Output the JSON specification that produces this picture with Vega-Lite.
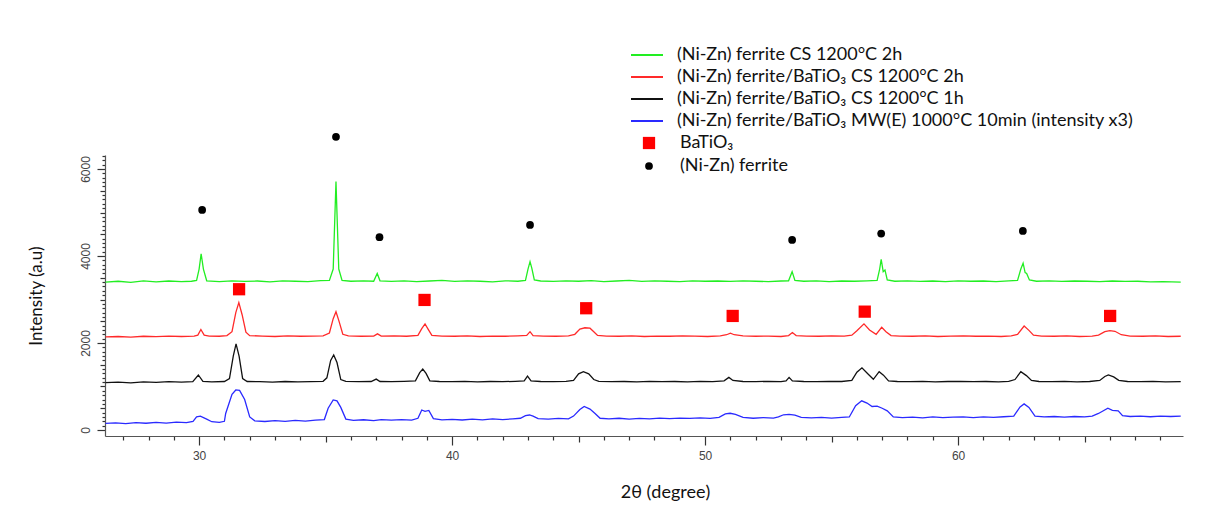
{
  "$schema": "https://vega.github.io/schema/vega-lite/v6.json",
  "width": 1078,
  "height": 281,
  "autosize": {"type": "none"},
  "padding": {"left": 105, "top": 155, "right": 32, "bottom": 91},
  "background": "white",
  "config": {"view": {"stroke": null}, "font": "Lato"},
  "datasets": {
    "traces": [
      {"s":"A","x":26.3,"y":3400},{"s":"A","x":26.8,"y":3420},{"s":"A","x":27.3,"y":3395},{"s":"A","x":27.8,"y":3430},{"s":"A","x":28.3,"y":3405},{"s":"A","x":28.8,"y":3425},{"s":"A","x":29.3,"y":3410},{"s":"A","x":29.7,"y":3420},{"s":"A","x":29.9,"y":3440},{"s":"A","x":30.0,"y":3700},{"s":"A","x":30.08,"y":4050},{"s":"A","x":30.17,"y":3700},{"s":"A","x":30.3,"y":3430},{"s":"A","x":30.8,"y":3410},{"s":"A","x":31.3,"y":3430},{"s":"A","x":31.8,"y":3415},{"s":"A","x":32.3,"y":3425},{"s":"A","x":32.8,"y":3405},{"s":"A","x":33.3,"y":3430},{"s":"A","x":33.8,"y":3420},{"s":"A","x":34.3,"y":3410},{"s":"A","x":34.8,"y":3435},{"s":"A","x":35.15,"y":3440},{"s":"A","x":35.3,"y":3700},{"s":"A","x":35.41,"y":5710},{"s":"A","x":35.52,"y":3700},{"s":"A","x":35.65,"y":3440},{"s":"A","x":36.0,"y":3420},{"s":"A","x":36.5,"y":3430},{"s":"A","x":36.9,"y":3420},{"s":"A","x":37.04,"y":3600},{"s":"A","x":37.15,"y":3430},{"s":"A","x":37.6,"y":3415},{"s":"A","x":38.1,"y":3430},{"s":"A","x":38.6,"y":3410},{"s":"A","x":39.1,"y":3425},{"s":"A","x":39.6,"y":3440},{"s":"A","x":40.1,"y":3415},{"s":"A","x":40.6,"y":3430},{"s":"A","x":41.1,"y":3420},{"s":"A","x":41.6,"y":3405},{"s":"A","x":42.1,"y":3430},{"s":"A","x":42.6,"y":3420},{"s":"A","x":42.9,"y":3440},{"s":"A","x":43.0,"y":3700},{"s":"A","x":43.08,"y":3870},{"s":"A","x":43.15,"y":3720},{"s":"A","x":43.25,"y":3450},{"s":"A","x":43.5,"y":3425},{"s":"A","x":44.0,"y":3415},{"s":"A","x":44.5,"y":3430},{"s":"A","x":45.0,"y":3420},{"s":"A","x":45.5,"y":3435},{"s":"A","x":46.0,"y":3410},{"s":"A","x":46.5,"y":3425},{"s":"A","x":47.0,"y":3440},{"s":"A","x":47.5,"y":3415},{"s":"A","x":48.0,"y":3430},{"s":"A","x":48.5,"y":3420},{"s":"A","x":49.0,"y":3410},{"s":"A","x":49.5,"y":3430},{"s":"A","x":50.0,"y":3420},{"s":"A","x":50.5,"y":3425},{"s":"A","x":51.0,"y":3415},{"s":"A","x":51.5,"y":3430},{"s":"A","x":52.0,"y":3420},{"s":"A","x":52.5,"y":3410},{"s":"A","x":53.0,"y":3425},{"s":"A","x":53.3,"y":3430},{"s":"A","x":53.44,"y":3640},{"s":"A","x":53.55,"y":3440},{"s":"A","x":53.9,"y":3420},{"s":"A","x":54.4,"y":3430},{"s":"A","x":54.9,"y":3410},{"s":"A","x":55.4,"y":3425},{"s":"A","x":55.9,"y":3420},{"s":"A","x":56.4,"y":3430},{"s":"A","x":56.8,"y":3440},{"s":"A","x":56.9,"y":3700},{"s":"A","x":56.96,"y":3925},{"s":"A","x":57.04,"y":3640},{"s":"A","x":57.11,"y":3680},{"s":"A","x":57.2,"y":3450},{"s":"A","x":57.5,"y":3420},{"s":"A","x":58.0,"y":3430},{"s":"A","x":58.5,"y":3415},{"s":"A","x":59.0,"y":3425},{"s":"A","x":59.5,"y":3410},{"s":"A","x":60.0,"y":3430},{"s":"A","x":60.5,"y":3420},{"s":"A","x":61.0,"y":3425},{"s":"A","x":61.5,"y":3410},{"s":"A","x":62.0,"y":3430},{"s":"A","x":62.35,"y":3440},{"s":"A","x":62.48,"y":3700},{"s":"A","x":62.57,"y":3835},{"s":"A","x":62.65,"y":3620},{"s":"A","x":62.71,"y":3600},{"s":"A","x":62.82,"y":3450},{"s":"A","x":63.1,"y":3420},{"s":"A","x":63.6,"y":3430},{"s":"A","x":64.1,"y":3415},{"s":"A","x":64.6,"y":3425},{"s":"A","x":65.1,"y":3420},{"s":"A","x":65.6,"y":3410},{"s":"A","x":66.1,"y":3425},{"s":"A","x":66.6,"y":3415},{"s":"A","x":67.1,"y":3420},{"s":"A","x":67.6,"y":3405},{"s":"A","x":68.1,"y":3410},{"s":"A","x":68.8,"y":3400},
      {"s":"B","x":26.3,"y":2140},{"s":"B","x":26.8,"y":2150},{"s":"B","x":27.3,"y":2135},{"s":"B","x":27.8,"y":2155},{"s":"B","x":28.3,"y":2145},{"s":"B","x":28.8,"y":2160},{"s":"B","x":29.3,"y":2150},{"s":"B","x":29.8,"y":2160},{"s":"B","x":29.95,"y":2180},{"s":"B","x":30.07,"y":2310},{"s":"B","x":30.2,"y":2180},{"s":"B","x":30.4,"y":2160},{"s":"B","x":30.8,"y":2155},{"s":"B","x":31.1,"y":2170},{"s":"B","x":31.3,"y":2260},{"s":"B","x":31.45,"y":2700},{"s":"B","x":31.57,"y":2930},{"s":"B","x":31.7,"y":2650},{"s":"B","x":31.85,"y":2250},{"s":"B","x":32.0,"y":2170},{"s":"B","x":32.5,"y":2160},{"s":"B","x":33.0,"y":2150},{"s":"B","x":33.5,"y":2165},{"s":"B","x":34.0,"y":2155},{"s":"B","x":34.5,"y":2160},{"s":"B","x":34.9,"y":2165},{"s":"B","x":35.15,"y":2230},{"s":"B","x":35.3,"y":2560},{"s":"B","x":35.41,"y":2720},{"s":"B","x":35.52,"y":2520},{"s":"B","x":35.68,"y":2200},{"s":"B","x":35.9,"y":2165},{"s":"B","x":36.4,"y":2155},{"s":"B","x":36.9,"y":2160},{"s":"B","x":37.05,"y":2210},{"s":"B","x":37.2,"y":2160},{"s":"B","x":37.7,"y":2165},{"s":"B","x":38.2,"y":2155},{"s":"B","x":38.65,"y":2175},{"s":"B","x":38.8,"y":2330},{"s":"B","x":38.93,"y":2440},{"s":"B","x":39.05,"y":2320},{"s":"B","x":39.2,"y":2175},{"s":"B","x":39.6,"y":2160},{"s":"B","x":40.1,"y":2155},{"s":"B","x":40.6,"y":2165},{"s":"B","x":41.1,"y":2150},{"s":"B","x":41.6,"y":2160},{"s":"B","x":42.1,"y":2155},{"s":"B","x":42.6,"y":2165},{"s":"B","x":42.95,"y":2175},{"s":"B","x":43.08,"y":2260},{"s":"B","x":43.2,"y":2170},{"s":"B","x":43.6,"y":2160},{"s":"B","x":44.1,"y":2155},{"s":"B","x":44.6,"y":2165},{"s":"B","x":44.85,"y":2200},{"s":"B","x":45.05,"y":2320},{"s":"B","x":45.25,"y":2350},{"s":"B","x":45.45,"y":2340},{"s":"B","x":45.6,"y":2260},{"s":"B","x":45.75,"y":2175},{"s":"B","x":46.1,"y":2160},{"s":"B","x":46.6,"y":2155},{"s":"B","x":47.1,"y":2165},{"s":"B","x":47.6,"y":2150},{"s":"B","x":48.1,"y":2160},{"s":"B","x":48.6,"y":2155},{"s":"B","x":49.1,"y":2165},{"s":"B","x":49.6,"y":2160},{"s":"B","x":50.1,"y":2150},{"s":"B","x":50.6,"y":2165},{"s":"B","x":50.85,"y":2190},{"s":"B","x":51.0,"y":2225},{"s":"B","x":51.15,"y":2190},{"s":"B","x":51.5,"y":2165},{"s":"B","x":52.0,"y":2155},{"s":"B","x":52.5,"y":2160},{"s":"B","x":53.0,"y":2150},{"s":"B","x":53.3,"y":2170},{"s":"B","x":53.45,"y":2240},{"s":"B","x":53.6,"y":2170},{"s":"B","x":54.0,"y":2160},{"s":"B","x":54.5,"y":2155},{"s":"B","x":55.0,"y":2165},{"s":"B","x":55.5,"y":2160},{"s":"B","x":55.8,"y":2180},{"s":"B","x":56.0,"y":2280},{"s":"B","x":56.28,"y":2440},{"s":"B","x":56.5,"y":2300},{"s":"B","x":56.76,"y":2200},{"s":"B","x":56.98,"y":2360},{"s":"B","x":57.15,"y":2260},{"s":"B","x":57.35,"y":2170},{"s":"B","x":57.7,"y":2160},{"s":"B","x":58.2,"y":2155},{"s":"B","x":58.7,"y":2165},{"s":"B","x":59.2,"y":2150},{"s":"B","x":59.7,"y":2160},{"s":"B","x":60.2,"y":2165},{"s":"B","x":60.7,"y":2155},{"s":"B","x":61.2,"y":2160},{"s":"B","x":61.7,"y":2150},{"s":"B","x":62.1,"y":2165},{"s":"B","x":62.35,"y":2200},{"s":"B","x":62.61,"y":2390},{"s":"B","x":62.8,"y":2290},{"s":"B","x":62.98,"y":2180},{"s":"B","x":63.3,"y":2160},{"s":"B","x":63.8,"y":2155},{"s":"B","x":64.3,"y":2165},{"s":"B","x":64.8,"y":2150},{"s":"B","x":65.3,"y":2160},{"s":"B","x":65.55,"y":2180},{"s":"B","x":65.8,"y":2260},{"s":"B","x":66.0,"y":2285},{"s":"B","x":66.2,"y":2270},{"s":"B","x":66.45,"y":2190},{"s":"B","x":66.8,"y":2160},{"s":"B","x":67.3,"y":2155},{"s":"B","x":67.8,"y":2165},{"s":"B","x":68.3,"y":2150},{"s":"B","x":68.8,"y":2155},
      {"s":"C","x":26.3,"y":1090},{"s":"C","x":26.8,"y":1100},{"s":"C","x":27.3,"y":1085},{"s":"C","x":27.8,"y":1105},{"s":"C","x":28.3,"y":1095},{"s":"C","x":28.8,"y":1110},{"s":"C","x":29.3,"y":1100},{"s":"C","x":29.75,"y":1110},{"s":"C","x":29.97,"y":1265},{"s":"C","x":30.15,"y":1120},{"s":"C","x":30.5,"y":1105},{"s":"C","x":31.0,"y":1115},{"s":"C","x":31.2,"y":1180},{"s":"C","x":31.35,"y":1700},{"s":"C","x":31.46,"y":1980},{"s":"C","x":31.58,"y":1700},{"s":"C","x":31.72,"y":1180},{"s":"C","x":31.9,"y":1115},{"s":"C","x":32.4,"y":1110},{"s":"C","x":32.9,"y":1100},{"s":"C","x":33.4,"y":1115},{"s":"C","x":33.9,"y":1105},{"s":"C","x":34.4,"y":1110},{"s":"C","x":34.9,"y":1120},{"s":"C","x":35.05,"y":1200},{"s":"C","x":35.2,"y":1600},{"s":"C","x":35.32,"y":1725},{"s":"C","x":35.45,"y":1550},{"s":"C","x":35.6,"y":1160},{"s":"C","x":35.8,"y":1120},{"s":"C","x":36.3,"y":1110},{"s":"C","x":36.8,"y":1115},{"s":"C","x":37.0,"y":1170},{"s":"C","x":37.15,"y":1115},{"s":"C","x":37.6,"y":1110},{"s":"C","x":38.1,"y":1120},{"s":"C","x":38.55,"y":1130},{"s":"C","x":38.72,"y":1320},{"s":"C","x":38.84,"y":1400},{"s":"C","x":38.97,"y":1300},{"s":"C","x":39.12,"y":1130},{"s":"C","x":39.5,"y":1115},{"s":"C","x":40.0,"y":1110},{"s":"C","x":40.5,"y":1120},{"s":"C","x":41.0,"y":1105},{"s":"C","x":41.5,"y":1115},{"s":"C","x":42.0,"y":1110},{"s":"C","x":42.5,"y":1120},{"s":"C","x":42.85,"y":1130},{"s":"C","x":42.98,"y":1240},{"s":"C","x":43.12,"y":1130},{"s":"C","x":43.5,"y":1115},{"s":"C","x":44.0,"y":1110},{"s":"C","x":44.5,"y":1120},{"s":"C","x":44.8,"y":1140},{"s":"C","x":45.0,"y":1290},{"s":"C","x":45.19,"y":1340},{"s":"C","x":45.4,"y":1290},{"s":"C","x":45.6,"y":1160},{"s":"C","x":45.8,"y":1120},{"s":"C","x":46.3,"y":1110},{"s":"C","x":46.8,"y":1115},{"s":"C","x":47.3,"y":1105},{"s":"C","x":47.8,"y":1120},{"s":"C","x":48.3,"y":1110},{"s":"C","x":48.8,"y":1115},{"s":"C","x":49.3,"y":1105},{"s":"C","x":49.8,"y":1120},{"s":"C","x":50.3,"y":1110},{"s":"C","x":50.75,"y":1130},{"s":"C","x":50.94,"y":1210},{"s":"C","x":51.1,"y":1140},{"s":"C","x":51.5,"y":1115},{"s":"C","x":52.0,"y":1110},{"s":"C","x":52.5,"y":1120},{"s":"C","x":53.0,"y":1110},{"s":"C","x":53.2,"y":1130},{"s":"C","x":53.32,"y":1210},{"s":"C","x":53.45,"y":1130},{"s":"C","x":53.9,"y":1115},{"s":"C","x":54.4,"y":1110},{"s":"C","x":54.9,"y":1120},{"s":"C","x":55.4,"y":1115},{"s":"C","x":55.8,"y":1140},{"s":"C","x":56.0,"y":1330},{"s":"C","x":56.2,"y":1430},{"s":"C","x":56.42,"y":1300},{"s":"C","x":56.65,"y":1165},{"s":"C","x":56.88,"y":1340},{"s":"C","x":57.05,"y":1260},{"s":"C","x":57.25,"y":1130},{"s":"C","x":57.6,"y":1115},{"s":"C","x":58.1,"y":1110},{"s":"C","x":58.6,"y":1120},{"s":"C","x":59.1,"y":1105},{"s":"C","x":59.6,"y":1115},{"s":"C","x":60.1,"y":1120},{"s":"C","x":60.6,"y":1110},{"s":"C","x":61.1,"y":1115},{"s":"C","x":61.6,"y":1105},{"s":"C","x":62.0,"y":1120},{"s":"C","x":62.25,"y":1160},{"s":"C","x":62.48,"y":1340},{"s":"C","x":62.7,"y":1250},{"s":"C","x":62.9,"y":1140},{"s":"C","x":63.2,"y":1115},{"s":"C","x":63.7,"y":1110},{"s":"C","x":64.2,"y":1120},{"s":"C","x":64.7,"y":1105},{"s":"C","x":65.2,"y":1115},{"s":"C","x":65.6,"y":1140},{"s":"C","x":65.8,"y":1230},{"s":"C","x":65.94,"y":1265},{"s":"C","x":66.15,"y":1220},{"s":"C","x":66.35,"y":1140},{"s":"C","x":66.7,"y":1115},{"s":"C","x":67.2,"y":1110},{"s":"C","x":67.7,"y":1120},{"s":"C","x":68.2,"y":1105},{"s":"C","x":68.8,"y":1110},
      {"s":"D","x":26.3,"y":150},{"s":"D","x":26.7,"y":165},{"s":"D","x":27.1,"y":145},{"s":"D","x":27.5,"y":170},{"s":"D","x":27.9,"y":155},{"s":"D","x":28.3,"y":175},{"s":"D","x":28.7,"y":160},{"s":"D","x":29.1,"y":180},{"s":"D","x":29.5,"y":170},{"s":"D","x":29.76,"y":200},{"s":"D","x":29.9,"y":300},{"s":"D","x":30.05,"y":320},{"s":"D","x":30.3,"y":250},{"s":"D","x":30.5,"y":190},{"s":"D","x":30.8,"y":175},{"s":"D","x":31.0,"y":200},{"s":"D","x":31.05,"y":380},{"s":"D","x":31.3,"y":820},{"s":"D","x":31.45,"y":920},{"s":"D","x":31.6,"y":910},{"s":"D","x":31.8,"y":700},{"s":"D","x":32.0,"y":300},{"s":"D","x":32.2,"y":210},{"s":"D","x":32.6,"y":195},{"s":"D","x":33.0,"y":215},{"s":"D","x":33.4,"y":200},{"s":"D","x":33.8,"y":220},{"s":"D","x":34.2,"y":205},{"s":"D","x":34.6,"y":225},{"s":"D","x":34.95,"y":240},{"s":"D","x":35.1,"y":500},{"s":"D","x":35.3,"y":690},{"s":"D","x":35.45,"y":670},{"s":"D","x":35.6,"y":520},{"s":"D","x":35.8,"y":250},{"s":"D","x":36.1,"y":220},{"s":"D","x":36.5,"y":235},{"s":"D","x":36.9,"y":215},{"s":"D","x":37.2,"y":240},{"s":"D","x":37.6,"y":225},{"s":"D","x":38.0,"y":240},{"s":"D","x":38.4,"y":225},{"s":"D","x":38.65,"y":270},{"s":"D","x":38.8,"y":460},{"s":"D","x":38.93,"y":430},{"s":"D","x":39.08,"y":450},{"s":"D","x":39.26,"y":260},{"s":"D","x":39.6,"y":235},{"s":"D","x":40.0,"y":245},{"s":"D","x":40.4,"y":230},{"s":"D","x":40.8,"y":250},{"s":"D","x":41.2,"y":235},{"s":"D","x":41.6,"y":255},{"s":"D","x":42.0,"y":240},{"s":"D","x":42.4,"y":255},{"s":"D","x":42.7,"y":270},{"s":"D","x":42.9,"y":330},{"s":"D","x":43.06,"y":345},{"s":"D","x":43.2,"y":320},{"s":"D","x":43.4,"y":260},{"s":"D","x":43.8,"y":250},{"s":"D","x":44.2,"y":265},{"s":"D","x":44.6,"y":255},{"s":"D","x":44.8,"y":320},{"s":"D","x":45.05,"y":470},{"s":"D","x":45.22,"y":540},{"s":"D","x":45.45,"y":480},{"s":"D","x":45.65,"y":380},{"s":"D","x":45.85,"y":270},{"s":"D","x":46.2,"y":255},{"s":"D","x":46.6,"y":270},{"s":"D","x":47.0,"y":250},{"s":"D","x":47.4,"y":265},{"s":"D","x":47.8,"y":255},{"s":"D","x":48.2,"y":275},{"s":"D","x":48.6,"y":260},{"s":"D","x":49.0,"y":275},{"s":"D","x":49.4,"y":265},{"s":"D","x":49.8,"y":280},{"s":"D","x":50.2,"y":265},{"s":"D","x":50.55,"y":290},{"s":"D","x":50.8,"y":370},{"s":"D","x":50.99,"y":385},{"s":"D","x":51.2,"y":360},{"s":"D","x":51.5,"y":290},{"s":"D","x":51.9,"y":270},{"s":"D","x":52.3,"y":285},{"s":"D","x":52.7,"y":275},{"s":"D","x":52.9,"y":300},{"s":"D","x":53.1,"y":350},{"s":"D","x":53.32,"y":360},{"s":"D","x":53.55,"y":340},{"s":"D","x":53.8,"y":290},{"s":"D","x":54.2,"y":280},{"s":"D","x":54.6,"y":290},{"s":"D","x":55.0,"y":275},{"s":"D","x":55.4,"y":290},{"s":"D","x":55.7,"y":300},{"s":"D","x":55.95,"y":560},{"s":"D","x":56.19,"y":670},{"s":"D","x":56.4,"y":620},{"s":"D","x":56.6,"y":540},{"s":"D","x":56.8,"y":550},{"s":"D","x":57.0,"y":500},{"s":"D","x":57.2,"y":440},{"s":"D","x":57.44,"y":300},{"s":"D","x":57.8,"y":285},{"s":"D","x":58.2,"y":295},{"s":"D","x":58.6,"y":280},{"s":"D","x":59.0,"y":300},{"s":"D","x":59.4,"y":285},{"s":"D","x":59.8,"y":295},{"s":"D","x":60.2,"y":300},{"s":"D","x":60.6,"y":285},{"s":"D","x":61.0,"y":300},{"s":"D","x":61.4,"y":290},{"s":"D","x":61.8,"y":305},{"s":"D","x":62.2,"y":320},{"s":"D","x":62.45,"y":530},{"s":"D","x":62.61,"y":600},{"s":"D","x":62.8,"y":520},{"s":"D","x":63.04,"y":320},{"s":"D","x":63.4,"y":300},{"s":"D","x":63.8,"y":310},{"s":"D","x":64.2,"y":295},{"s":"D","x":64.6,"y":310},{"s":"D","x":65.0,"y":300},{"s":"D","x":65.3,"y":320},{"s":"D","x":65.55,"y":380},{"s":"D","x":65.92,"y":500},{"s":"D","x":66.1,"y":450},{"s":"D","x":66.33,"y":440},{"s":"D","x":66.5,"y":330},{"s":"D","x":66.8,"y":310},{"s":"D","x":67.2,"y":320},{"s":"D","x":67.6,"y":305},{"s":"D","x":68.0,"y":320},{"s":"D","x":68.4,"y":310},{"s":"D","x":68.8,"y":320}
    ],
    "markers": [
      {"m":"BaTiO₃","x":31.58,"y":3236},{"m":"BaTiO₃","x":38.91,"y":2990},{"m":"BaTiO₃","x":45.3,"y":2799},{"m":"BaTiO₃","x":51.09,"y":2622},{"m":"BaTiO₃","x":56.31,"y":2721},{"m":"BaTiO₃","x":66.01,"y":2622},
      {"m":"(Ni-Zn) ferrite","x":30.12,"y":5060},{"m":"(Ni-Zn) ferrite","x":35.41,"y":6739},{"m":"(Ni-Zn) ferrite","x":37.13,"y":4432},{"m":"(Ni-Zn) ferrite","x":43.08,"y":4715},{"m":"(Ni-Zn) ferrite","x":53.44,"y":4370},{"m":"(Ni-Zn) ferrite","x":56.96,"y":4515},{"m":"(Ni-Zn) ferrite","x":62.56,"y":4577}
    ]
  },
  "resolve": {"axis": {"x": "independent", "y": "independent"}},
  "layer": [
    {
      "data": {"name": "markers"},
      "mark": {"type": "point", "opacity": 0},
      "encoding": {
        "x": {
          "field": "x", "type": "quantitative",
          "scale": {"domain": [26.28, 68.89], "nice": false, "zero": false},
          "axis": {
            "orient": "bottom", "title": null, "labels": false, "domain": false, "grid": false,
            "values": [27,28,29,31,32,33,34,36,37,38,39,41,42,43,44,46,47,48,49,51,52,53,54,56,57,58,59,61,62,63,64,66,67,68],
            "tickSize": 4, "tickColor": "#333", "tickWidth": 1.2
          }
        },
        "y": {
          "field": "y", "type": "quantitative",
          "scale": {"domain": [-138, 6322], "nice": false, "zero": false},
          "axis": {
            "orient": "left", "title": null, "labels": false, "domain": false, "grid": false,
            "values": [100,200,300,400,600,700,800,900,1100,1200,1300,1400,1600,1700,1800,1900,2100,2200,2300,2400,2600,2700,2800,2900,3100,3200,3300,3400,3600,3700,3800,3900,4100,4200,4300,4400,4600,4700,4800,4900,5100,5200,5300,5400,5600,5700,5800,5900,6100,6200,6300],
            "tickSize": 3, "tickColor": "#333", "tickWidth": 1.2
          }
        }
      }
    },
    {
      "data": {"name": "markers"},
      "mark": {"type": "point", "opacity": 0},
      "encoding": {
        "x": {
          "field": "x", "type": "quantitative",
          "scale": {"domain": [26.28, 68.89], "nice": false, "zero": false},
          "axis": {
            "orient": "bottom", "title": null, "labels": false, "domain": false, "grid": false,
            "values": [35, 45, 55, 65], "tickSize": 6, "tickColor": "#333", "tickWidth": 1.2
          }
        },
        "y": {
          "field": "y", "type": "quantitative",
          "scale": {"domain": [-138, 6322], "nice": false, "zero": false},
          "axis": {
            "orient": "left", "title": null, "labels": false, "domain": false, "grid": false,
            "values": [500,1000,1500,2500,3000,3500,4500,5000,5500], "tickSize": 5, "tickColor": "#333", "tickWidth": 1.2
          }
        }
      }
    },
    {
      "data": {"name": "traces"},
      "mark": {"type": "line", "strokeWidth": 1.3},
      "encoding": {
        "x": {
          "field": "x", "type": "quantitative",
          "scale": {"domain": [26.28, 68.89], "nice": false, "zero": false},
          "axis": {
            "orient": "bottom",
            "title": "2θ (degree)", "titleFont": "Lato", "titleFontSize": 18, "titleFontWeight": "normal", "titleColor": "#111",
            "titlePadding": 22, "titleX": 560,
            "values": [30, 40, 50, 60], "format": "d",
            "labelFont": "Liberation Sans", "labelFontSize": 12, "labelColor": "#444", "labelPadding": 5,
            "grid": false, "domainColor": "#555", "domainWidth": 1.2, "tickColor": "#333", "tickWidth": 1.2, "tickSize": 9
          }
        },
        "y": {
          "field": "y", "type": "quantitative",
          "scale": {"domain": [-138, 6322], "nice": false, "zero": false},
          "axis": {
            "orient": "left",
            "title": "Intensity (a.u)", "titleFont": "Lato", "titleFontSize": 17, "titleFontWeight": "normal", "titleColor": "#111", "titlePadding": 34,
            "values": [0, 2000, 4000, 6000], "format": "d",
            "labelAngle": 270, "labelFont": "Liberation Sans", "labelFontSize": 12, "labelColor": "#444", "labelPadding": 5,
            "grid": false, "domainColor": "#555", "domainWidth": 1.2, "tickColor": "#333", "tickWidth": 1.2, "tickSize": 8
          }
        },
        "color": {
          "field": "s", "type": "nominal",
          "scale": {"domain": ["A", "B", "C", "D"], "range": ["#22ee22", "#ff2a2a", "#111111", "#2a2aff"]},
          "legend": {
            "title": null, "orient": "none", "legendX": 525, "legendY": -109,
            "symbolType": "M-1,0H3", "symbolSize": 256, "symbolStrokeWidth": 2,
            "labelFont": "Lato", "labelFontSize": 18, "labelColor": "#111", "labelOffset": 29, "labelLimit": 700, "rowPadding": 4,
            "labelExpr": "datum.label == 'A' ? '(Ni-Zn) ferrite CS 1200°C 2h' : datum.label == 'B' ? '(Ni-Zn) ferrite/BaTiO₃ CS 1200°C 2h' : datum.label == 'C' ? '(Ni-Zn) ferrite/BaTiO₃ CS 1200°C 1h' : '(Ni-Zn) ferrite/BaTiO₃ MW(E) 1000°C 10min (intensity x3)'"
          }
        }
      }
    },
    {
      "data": {"name": "markers"},
      "mark": {"type": "point", "filled": true, "opacity": 1, "strokeWidth": 0},
      "encoding": {
        "x": {"field": "x", "type": "quantitative", "scale": {"domain": [26.28, 68.89], "nice": false, "zero": false}, "axis": null},
        "y": {"field": "y", "type": "quantitative", "scale": {"domain": [-138, 6322], "nice": false, "zero": false}, "axis": null},
        "fill": {
          "field": "m", "type": "nominal",
          "scale": {"domain": ["BaTiO₃", "(Ni-Zn) ferrite"], "range": ["#ff0000", "#000000"]},
          "legend": {
            "title": null, "orient": "none", "legendX": 535, "legendY": -21,
            "labelFont": "Lato", "labelFontSize": 18, "labelColor": "#111", "labelOffset": 22, "labelLimit": 700, "rowPadding": 4
          }
        },
        "shape": {"field": "m", "type": "nominal", "scale": {"domain": ["BaTiO₃", "(Ni-Zn) ferrite"], "range": ["square", "circle"]}},
        "size": {"field": "m", "type": "nominal", "scale": {"domain": ["BaTiO₃", "(Ni-Zn) ferrite"], "range": [150, 60]}}
      }
    }
  ]
}
